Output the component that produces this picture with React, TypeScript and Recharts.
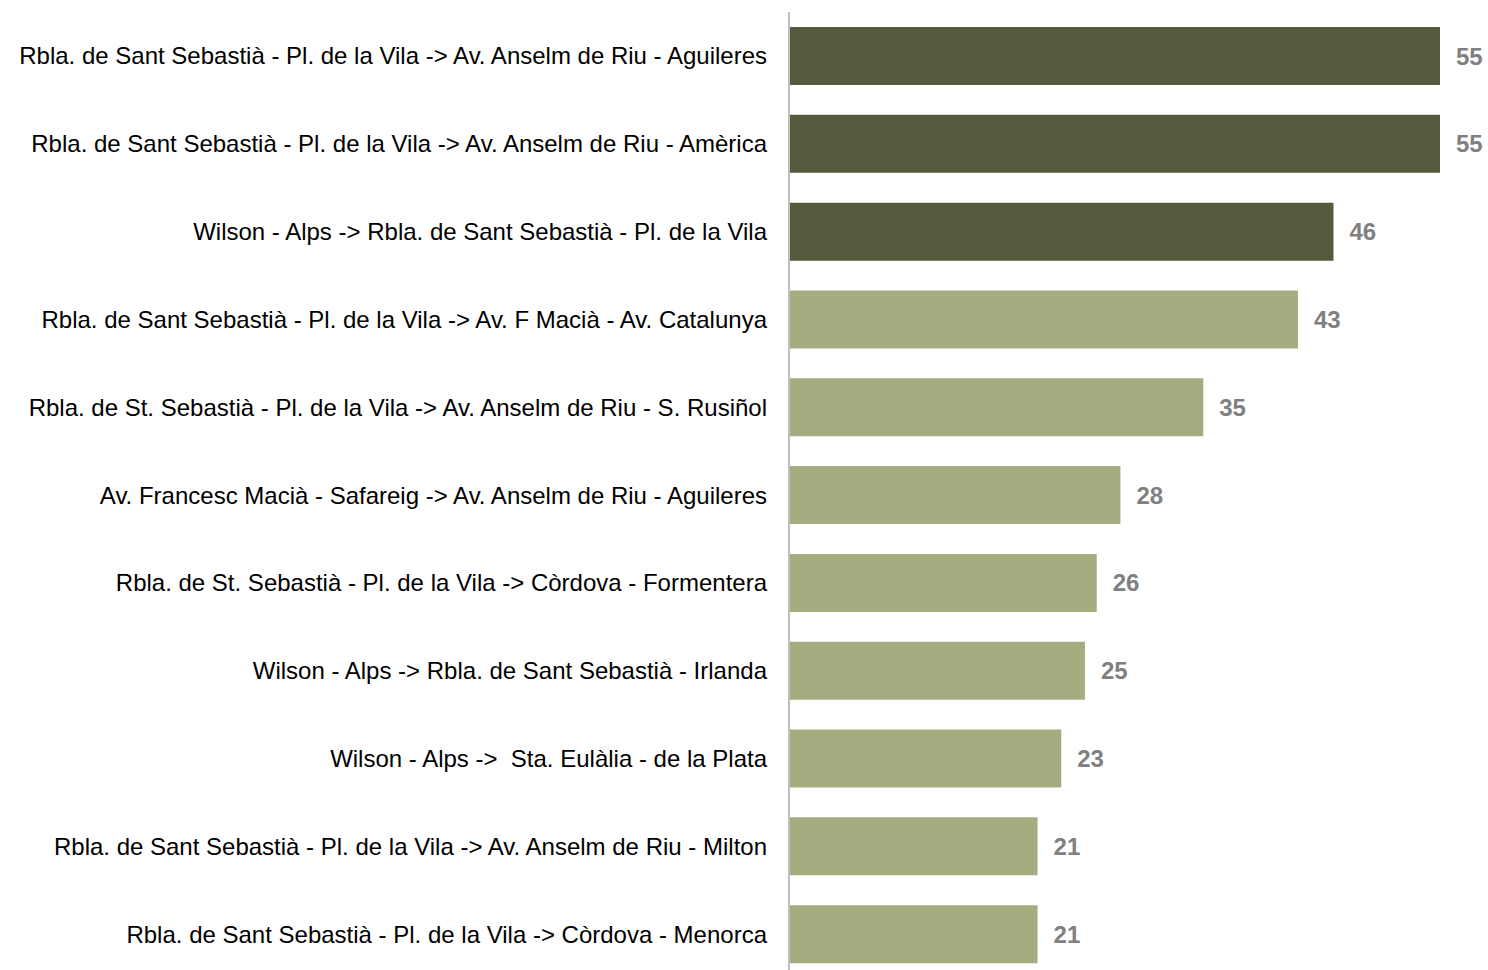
import React from "react";
import { BarChart, Bar, XAxis, YAxis, Cell, LabelList } from "recharts";

const categories = [
  "Rbla. de Sant Sebastià - Pl. de la Vila -> Av. Anselm de Riu - Aguileres",
  "Rbla. de Sant Sebastià - Pl. de la Vila -> Av. Anselm de Riu - Amèrica",
  "Wilson - Alps -> Rbla. de Sant Sebastià - Pl. de la Vila",
  "Rbla. de Sant Sebastià - Pl. de la Vila -> Av. F Macià - Av. Catalunya",
  "Rbla. de St. Sebastià - Pl. de la Vila -> Av. Anselm de Riu - S. Rusiñol",
  "Av. Francesc Macià - Safareig -> Av. Anselm de Riu - Aguileres",
  "Rbla. de St. Sebastià - Pl. de la Vila -> Còrdova - Formentera",
  "Wilson - Alps -> Rbla. de Sant Sebastià - Irlanda",
  "Wilson - Alps ->  Sta. Eulàlia - de la Plata",
  "Rbla. de Sant Sebastià - Pl. de la Vila -> Av. Anselm de Riu - Milton",
  "Rbla. de Sant Sebastià - Pl. de la Vila -> Còrdova - Menorca",
];
const values = [55, 55, 46, 43, 35, 28, 26, 25, 23, 21, 21];
const highlighted = [true, true, true, false, false, false, false, false, false, false, false];

const DARK = "#565A3D";
const LIGHT = "#A4AC80";

const data = categories.map((name, i) => ({ name, value: values[i], hi: highlighted[i] }));

const FONT = "'Liberation Sans', Arial, sans-serif";

const Tick = (props: any) => {
  const { x, y, payload } = props;
  return (
    <text
      x={x}
      y={y}
      dy="0.355em"
      textAnchor="end"
      fill="#000000"
      fontSize={24}
      fontFamily={FONT}
      style={{ whiteSpace: "pre" }}
    >
      {payload.value}
    </text>
  );
};

export default function App() {
  return (
    <div style={{ position: "absolute", left: 0, top: 0, background: "#fff" }}>
      <BarChart
        width={1488}
        height={980}
        data={data}
        layout="vertical"
        margin={{ top: 12, right: 48, bottom: 2, left: 0 }}
      >
        <XAxis type="number" domain={[0, 55]} hide />
        <YAxis
          type="category"
          dataKey="name"
          width={789}
          axisLine={{ stroke: "#BFBFBF", strokeWidth: 2 }}
          tickLine={false}
          tickSize={0}
          tickMargin={22}
          tick={<Tick />}
          interval={0}
        />
        <Bar dataKey="value" barSize={58} isAnimationActive={false}>
          {data.map((d, i) => (
            <Cell key={i} fill={d.hi ? DARK : LIGHT} />
          ))}
          <LabelList
            dataKey="value"
            position="right"
            offset={16}
            fill="#808080"
            fontSize={24}
            fontWeight="bold"
            fontFamily={FONT}
          />
        </Bar>
      </BarChart>
    </div>
  );
}
